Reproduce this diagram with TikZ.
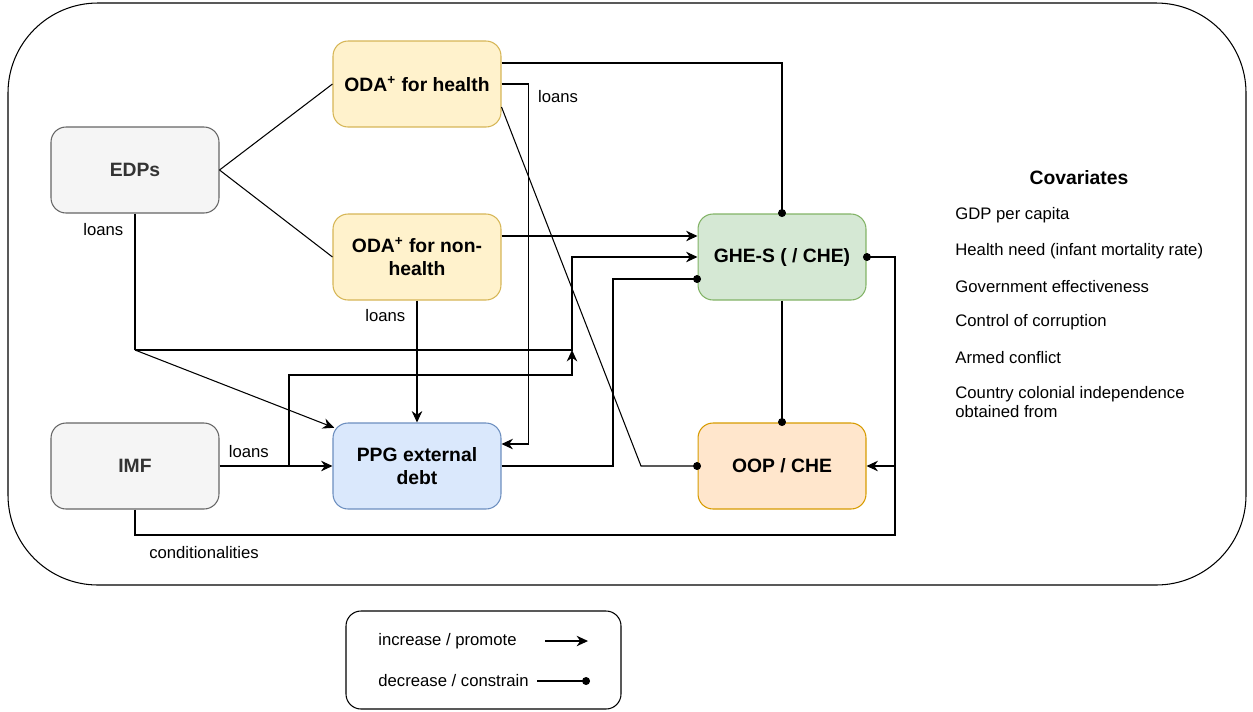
\documentclass[tikz,border=0pt]{standalone}
\usepackage{fontspec}
\setmainfont{Liberation Sans}
\usetikzlibrary{arrows.meta,calc}

\definecolor{greyfill}{HTML}{F5F5F5}
\definecolor{greyline}{HTML}{666666}
\definecolor{odafill}{HTML}{FFF2CC}
\definecolor{odaline}{HTML}{D6B656}
\definecolor{debtfill}{HTML}{DAE8FC}
\definecolor{debtline}{HTML}{6C8EBF}
\definecolor{ghefill}{HTML}{D5E8D4}
\definecolor{gheline}{HTML}{82B366}
\definecolor{oopfill}{HTML}{FFE6CC}
\definecolor{oopline}{HTML}{D79B00}

\begin{document}
\begin{tikzpicture}[x=0.02cm, y=-0.02cm, line width=0.6pt,
    box/.style={rounded corners=0.3cm, minimum width=3.36cm, minimum height=1.72cm,
        align=center, font=\fontsize{11}{13}\selectfont\bfseries},
    lbl/.style={font=\fontsize{9.5}{11}\selectfont},
    inc/.style={-{Stealth[length=6.5pt,width=6pt]}},
    dec/.style={-{Circle[length=4.5pt]}, shorten >=-2pt}]
    \useasboundingbox (0,0) rectangle (1253,711);

    % Outer frame
    \draw[rounded corners=1.8cm] (8,3) rectangle (1246,585);

    % Boxes
    \node[box, fill=greyfill, draw=greyline, text=black!80] (edps) at (135,170) {EDPs};
    \node[box, fill=greyfill, draw=greyline, text=black!80] (imf) at (135,466) {IMF};
    \node[box, fill=odafill, draw=odaline] (odah) at (417,84) {ODA\textsuperscript{+} for health};
    \node[box, fill=odafill, draw=odaline] (odanh) at (417,257) {ODA\textsuperscript{+} for non-\\health};
    \node[box, fill=debtfill, draw=debtline] (ppg) at (417,466) {PPG external\\debt};
    \node[box, fill=ghefill, draw=gheline] (ghes) at (782,257) {GHE-S ( / CHE)};
    \node[box, fill=oopfill, draw=oopline] (oop) at (782,466) {OOP / CHE};

    % Junction points
    \coordinate (edpsj) at (135,350);
    \coordinate (merge) at (572,350);
    \coordinate (imfj) at (289,466);
    \coordinate (bend) at (641,466);
    \coordinate (rail) at (895,466);

    % EDPs
    \draw (edps.east) -- (odah.west);
    \draw (edps.east) -- (odanh.west);
    \draw (edps.south) -- node[lbl, pos=0.12, left=3pt] {loans} (edpsj);
    \draw[inc] (edpsj) -- ([xshift=1pt,yshift=-3pt]ppg.north west);
    \draw[inc] (edpsj) -- (merge) |- (ghes.west);

    % IMF
    \draw[inc] (imf.east) -- node[lbl, pos=0.26, above=1pt] {loans} (ppg.west);
    \draw[inc] (imfj) -- (289,375) -- (572,375) -- (merge);
    \draw[dec] (imf.south) |- (895,535) |- (ghes.east);
    \node[lbl] (condlbl) at (204,553) {conditionalities};
    \draw[inc] (rail) -- (oop.east);

    % ODA for health
    \draw[dec] ([yshift=0.42cm]odah.east) -| (ghes.north);
    \draw[inc] (odah.east) -- ++(27,0) |- ([yshift=0.44cm]ppg.east);
    \node[lbl] (loansh) at (558,97) {loans};
    \draw[dec] ([yshift=-0.46cm]odah.east) -- (bend) -- (oop.west);

    % ODA for non-health
    \draw[inc] ([yshift=0.42cm]odanh.east) -- ([yshift=0.42cm]ghes.west);
    \draw[inc] (odanh.south) -- node[lbl, pos=0.12, left=3pt] {loans} (ppg.north);

    % PPG external debt and GHE-S
    \draw[dec] (ppg.east) -- (613,466) |- ([yshift=-0.44cm]ghes.west);
    \draw[dec] (ghes.south) -- (oop.north);

    % Covariates
    \node[font=\fontsize{11}{13}\selectfont\bfseries] (cov) at (1079,178) {Covariates};
    \node[lbl, anchor=west] (cov1) at (949,215) {GDP per capita};
    \node[lbl, anchor=west] (cov2) at (949,251) {Health need (infant mortality rate)};
    \node[lbl, anchor=west] (cov3) at (949,287) {Government effectiveness};
    \node[lbl, anchor=west] (cov4) at (949,322) {Control of corruption};
    \node[lbl, anchor=west] (cov5) at (949,358) {Armed conflict};
    \node[lbl, anchor=west, align=left] (cov6) at (949,402) {Country colonial independence\\obtained from};

    % Legend
    \draw[rounded corners=0.3cm] (346,611) rectangle (621,709);
    \node[lbl, anchor=west] (leginc) at (372,641) {increase / promote};
    \node[lbl, anchor=west] (legdec) at (372,681) {decrease / constrain};
    \coordinate (inca) at (545,641);
    \coordinate (incb) at (588,641);
    \coordinate (deca) at (537,681);
    \coordinate (decb) at (590,681);
    \draw[inc] (inca) -- (incb);
    \draw[-{Circle[length=4.5pt]}] (deca) -- (decb);
\end{tikzpicture}
\end{document}
